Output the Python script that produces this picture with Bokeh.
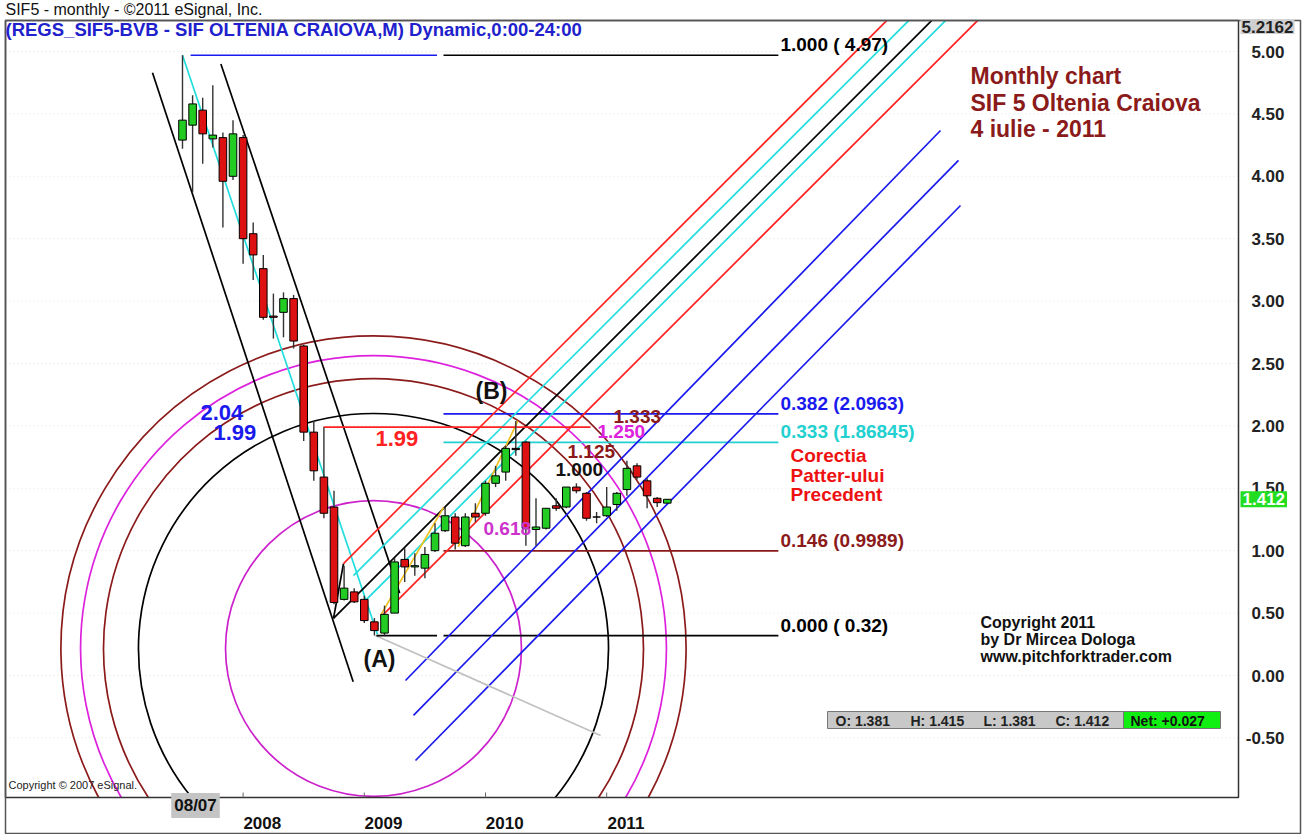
import math
from bokeh.plotting import figure
from bokeh.models import Range1d, Label
from bokeh.core.properties import value
from bokeh.embed import file_html
from bokeh.resources import INLINE

# ---------------- data ----------------
# month index: 0 = Jul 2007 ... 48 = Jul 2011
month_index = list(range(49))
opens = [4.29, 4.41, 4.53, 4.30, 4.31, 4.00, 4.31, 3.54, 3.26, 2.88,
         2.91, 3.02, 2.64, 1.95, 1.59, 1.35, 0.61, 0.67, 0.61, 0.43,
         0.34, 0.50, 0.93, 0.87, 0.86, 1.00, 1.16, 1.27, 1.04, 1.30,
         1.30, 1.54, 1.63, 1.82, 1.87, 1.17, 1.18, 1.36, 1.35, 1.51,
         1.46, 1.27, 1.28, 1.37, 1.49, 1.68, 1.56, 1.42, 1.381]
highs = [4.97, 4.65, 4.63, 4.73, 4.35, 4.45, 4.33, 3.63, 3.37, 3.06,
         3.07, 3.05, 2.65, 2.04, 1.99, 1.48, 0.88, 0.70, 0.64, 0.46,
         0.56, 0.94, 1.02, 0.98, 1.03, 1.22, 1.35, 1.30, 1.30, 1.38,
         1.56, 1.68, 1.84, 2.04, 1.88, 1.42, 1.34, 1.42, 1.51, 1.54,
         1.47, 1.31, 1.51, 1.47, 1.72, 1.70, 1.58, 1.43, 1.415]
lows = [4.22, 3.87, 4.10, 4.23, 3.59, 3.97, 3.30, 3.17, 2.85, 2.70,
        2.71, 2.62, 1.88, 1.56, 1.26, 0.57, 0.60, 0.58, 0.42, 0.32,
        0.32, 0.50, 0.75, 0.80, 0.78, 0.99, 1.15, 1.01, 1.03, 1.23,
        1.28, 1.51, 1.56, 1.76, 1.04, 1.04, 1.17, 1.32, 1.34, 1.46,
        1.24, 1.22, 1.27, 1.32, 1.44, 1.57, 1.34, 1.35, 1.381]
closes = [4.45, 4.58, 4.34, 4.33, 3.96, 4.34, 3.50, 3.37, 2.87, 2.87,
          3.02, 2.68, 1.95, 1.64, 1.30, 0.585, 0.70, 0.59, 0.44, 0.36,
          0.49, 0.91, 0.87, 0.88, 0.97, 1.14, 1.28, 1.06, 1.27, 1.27,
          1.54, 1.60, 1.82, 1.81, 1.18, 1.19, 1.34, 1.34, 1.51, 1.48,
          1.26, 1.27, 1.35, 1.46, 1.66, 1.59, 1.44, 1.385, 1.412]

year_ticks = [6, 18, 30, 42]            # January bars
year_labels = ["2008", "2009", "2010", "2011"]
price_ticks = [-0.5, 0.0, 0.5, 1.0, 1.5, 2.0, 2.5, 3.0, 3.5, 4.0, 4.5, 5.0]
scale_high = 5.2162

# Fibonacci retracement (0.32 -> 4.97)
fib_prices = [4.97, 2.0963, 1.86845, 0.9989, 0.32]
fib_texts = ["1.000 ( 4.97)", "0.382 (2.0963)", "0.333 (1.86845)", "0.146 (0.9989)", "0.000 ( 0.32)"]
fib_colors = ["#000000", "#1a1aee", "#22d0d0", "#8b1a1a", "#000000"]
fib_x0 = 25.84
fib_x1 = 59.0

# hand-drawn analysis lines (month index, price)
seg_x0 = [0.0, -2.97, 3.8, 15.94, 15.94, 16.93, 14.95, 18.1, 19.6, 22.08, 22.87, 23.07, 19.1, 19.6, 27.3, 13.96, 0.8, 19.2]
seg_y0 = [4.97, 4.83, 4.90, 0.897, 0.897, 0.801, 0.457, 0.60, 0.465, -0.04, -0.32, -0.681, 0.32, 0.48, 1.03, 1.99, 4.97, 0.32]
seg_x1 = [19.3, 16.9, 21.5, 14.95, 69.72, 71.9, 74.17, 75.55, 78.72, 75.05, 76.83, 77.03, 41.4, 25.84, 33.2, 40.4, 25.2, 25.2]
seg_y1 = [0.33, -0.05, 0.66, 0.457, 5.248, 5.248, 5.248, 5.248, 5.248, 4.367, 4.127, 3.766, -0.48, 1.346, 2.04, 1.99, 4.97, 0.32]
seg_color = ["#22dddd", "#000000", "#000000", "#000000", "#ff2222", "#22dddd", "#000000", "#22dddd", "#ff2222",
             "#1a1aee", "#1a1aee", "#1a1aee", "#c0c0c0", "#f0c020", "#f0c020", "#ff2222", "#1a1aee", "#000000"]

# circles (arcs) centred near pivot (A)
arc_cx = 18.91
arc_cy = 0.216
arc_r = [14.65, 23.27, 26.73, 29.0, 30.95]
arc_color = ["#cc22cc", "#000000", "#8b1a1a", "#dd22dd", "#8b1a1a"]

# ---------------- geometry helpers (reference pixel -> data) ----------------
W, H = 1313, 834
PX_PER_MONTH = 10.1
PX_PER_UNIT = 124.8

def X(px):
    return (px - 182) / PX_PER_MONTH

def Y(py):
    return (675 - py) / PX_PER_UNIT

# plot box
box_l, box_r, box_t, box_b = X(5), X(1238), Y(20), Y(797)

p = figure(width=W, height=H, x_range=Range1d(X(0), X(W)), y_range=Range1d(Y(H), Y(0)),
           output_backend="svg", toolbar_location=None, x_axis_location=None, y_axis_location=None,
           min_border_left=0, min_border_right=0, min_border_top=0, min_border_bottom=0)
p.outline_line_color = None
p.grid.visible = False
p.background_fill_color = "white"
p.border_fill_color = "white"

FONT = value("Liberation Sans")

# faint grid
p.segment(x0=[box_l] * len(price_ticks), y0=price_ticks, x1=[box_r] * len(price_ticks), y1=price_ticks,
          line_color="#e2e2e2", line_dash="1 3", line_width=1)

# arcs (clipped at bottom of plot box)
a_x, a_y, a_r, a_s, a_e, a_c = [], [], [], [], [], []
for r, c in zip(arc_r, arc_color):
    d = (arc_cy - box_b) * PX_PER_UNIT
    R = r * PX_PER_MONTH
    if R > d:
        a = math.asin(d / R)
        s, e = -a, math.pi + a
    else:
        s, e = 0.0, 2 * math.pi
    a_x.append(arc_cx); a_y.append(arc_cy); a_r.append(r); a_s.append(s); a_e.append(e); a_c.append(c)
p.arc(x=a_x, y=a_y, radius=a_r, start_angle=a_s, end_angle=a_e, direction="anticlock",
      line_color=a_c, line_width=1.7)

# fib lines
p.segment(x0=[fib_x0] * 5, y0=fib_prices, x1=[fib_x1] * 5, y1=fib_prices, line_color=fib_colors, line_width=1.7)

# analysis lines
p.segment(x0=seg_x0, y0=seg_y0, x1=seg_x1, y1=seg_y1, line_color=seg_color, line_width=1.7)

# candles
body_top = [max(o, c) for o, c in zip(opens, closes)]
body_bot = [min(o, c) for o, c in zip(opens, closes)]
body_col = ["#22cc22" if c > o else ("#dd1111" if c < o else "#000000") for o, c in zip(opens, closes)]
p.segment(x0=month_index, y0=lows, x1=month_index, y1=highs, line_color="#333333", line_width=1.4)
p.vbar(x=month_index, width=0.75, top=body_top, bottom=body_bot, fill_color=body_col, line_color="#000000", line_width=1)

# frames
p.quad(left=[box_l], right=[box_r], top=[box_t], bottom=[box_b], fill_color=None, line_color="#333333", line_width=1.5)
p.quad(left=[box_l], right=[X(1300)], top=[box_t], bottom=[Y(833)], fill_color=None, line_color="#555555", line_width=1.5)

# year axis
p.segment(x0=year_ticks, y0=[box_b] * 4, x1=year_ticks, y1=[box_b + 0.04] * 4, line_color="#666666", line_width=1)
p.text(x=[t + 1.9 for t in year_ticks], y=[Y(822)] * 4, text=year_labels, text_font=FONT,
       text_font_size="17px", text_font_style="bold", text_color="#111111",
       text_align="center", text_baseline="middle")

# price axis
p.text(x=[X(1284)] * len(price_ticks), y=price_ticks, text=["%.2f" % t for t in price_ticks], text_font=FONT,
       text_font_size="17px", text_font_style="bold", text_color="#222222",
       text_align="right", text_baseline="middle")

# OHLC box
p.quad(left=[X(827)], right=[X(1123)], top=[Y(711)], bottom=[Y(728)], fill_color="#c8c8c8", line_color="#777777")
p.quad(left=[X(1123)], right=[X(1220)], top=[Y(711)], bottom=[Y(728)], fill_color="#11ee11", line_color="#777777")

def lab(px, py, text, color, size, style="bold", align="left", baseline="middle", bg=None, pad=0, x=None, y=None):
    kw = {}
    if bg is not None:
        kw = dict(background_fill_color=bg, background_fill_alpha=1.0, padding=pad)
    p.add_layout(Label(x=X(px) if x is None else x, y=Y(py) if y is None else y, text=text, text_color=color,
                       text_font="Liberation Sans", text_font_size=size, text_font_style=style,
                       text_align=align, text_baseline=baseline, **kw))

# titles
lab(5, 9, "SIF5 - monthly - ©2011 eSignal, Inc.", "#111111", "16px", style="normal")
lab(5, 29, "(REGS_SIF5-BVB - SIF OLTENIA CRAIOVA,M) Dynamic,0:00-24:00", "#2020cc", "18.5px")

# fib labels
for pr, tx, col in zip(fib_prices, fib_texts, fib_colors):
    p.add_layout(Label(x=fib_x1 + 0.2, y=pr, text=tx, text_color=col, text_font="Liberation Sans",
                       text_font_size="19px", text_font_style="bold", text_baseline="bottom"))

# arc / point labels
lab(613, 416, "1.333", "#8b1a1a", "19px")
lab(597, 431, "1.250", "#dd22dd", "19px")
lab(567, 451, "1.125", "#8b1a1a", "19px")
lab(555, 469, "1.000", "#111111", "19px")
lab(483, 528, "0.618", "#cc33cc", "19px")
lab(491, 390, "(B)", "#111111", "23px", align="center")
lab(379, 658, "(A)", "#111111", "23px", align="center")
lab(200, 412, "2.04", "#1a1aee", "22px")
lab(213, 432, "1.99", "#1a1aee", "22px")
lab(375, 438, "1.99", "#ff2222", "22px")
lab(790, 455, "Corectia", "#ee1111", "19px")
lab(790, 475, "Patter-ului", "#ee1111", "19px")
lab(790, 494, "Precedent", "#ee1111", "19px")
lab(970, 75, "Monthly chart", "#8b1a1a", "23px")
lab(970, 102, "SIF 5 Oltenia Craiova", "#8b1a1a", "23px")
lab(970, 128, "4 iulie - 2011", "#8b1a1a", "23px")
lab(980, 622, "Copyright 2011", "#111111", "16px")
lab(980, 639, "by Dr Mircea Dologa", "#111111", "16px")
lab(980, 656, "www.pitchforktrader.com", "#111111", "16px")
lab(8, 784, "Copyright © 2007 eSignal.", "#222222", "11px", style="normal")

# OHLC texts
net = closes[-1] - closes[-2]
lab(835, 720, "O: %.3f" % opens[-1], "#222222", "14px")
lab(910, 720, "H: %.3f" % highs[-1], "#222222", "14px")
lab(983, 720, "L: %.3f" % lows[-1], "#222222", "14px")
lab(1055, 720, "C: %.3f" % closes[-1], "#222222", "14px")
lab(1130, 720, "Net: %+.3f" % net, "#111111", "14px")

# axis-area boxes
lab(195, 805, "08/07", "#111111", "17px", align="center", bg="#c4c4c4", pad=3)
lab(1240, 0, "%.4f" % scale_high, "#222222", "17px", bg="#cfcfcf", pad=1, y=scale_high - 0.02)
lab(1240, 0, "%.3f" % closes[-1], "white", "17px", bg="#22dd22", pad=2, y=closes[-1])

open("out.html", "w").write(file_html(p, INLINE))
